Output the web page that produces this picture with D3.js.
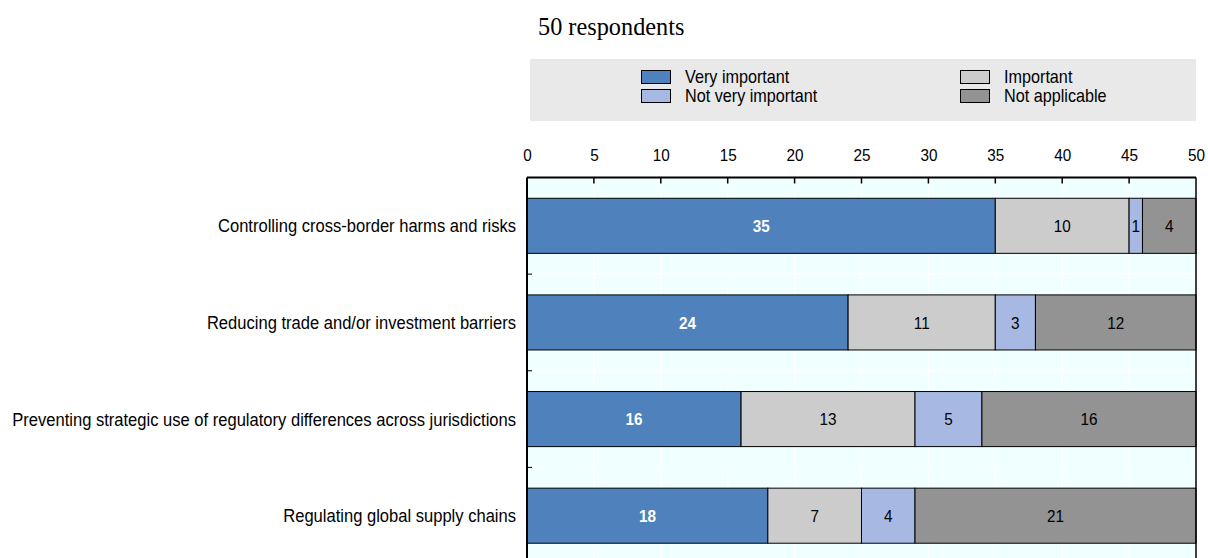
<!DOCTYPE html>
<html>
<head>
<meta charset="utf-8">
<script src="https://cdn.jsdelivr.net/npm/d3@7"></script>
<style>
  html, body { margin: 0; padding: 0; background: #fff; }
  svg { display: block; }
  .sans { font-family: "Liberation Sans", Arial, sans-serif; }
</style>
</head>
<body>
<svg id="chart" width="1208" height="558"></svg>
<script>
// Survey: importance of objectives for international regulatory co-operation
const categories = [
  "Controlling cross-border harms and risks",
  "Reducing trade and/or investment barriers",
  "Preventing strategic use of regulatory differences across jurisdictions",
  "Regulating global supply chains"
];
const seriesNames = ["Very important", "Important", "Not very important", "Not applicable"];
const veryImportant    = [35, 24, 16, 18];
const important        = [10, 11, 13, 7];
const notVeryImportant = [1, 3, 5, 4];
const notApplicable    = [4, 12, 16, 21];
const xTicks = [0, 5, 10, 15, 20, 25, 30, 35, 40, 45, 50];
const colors = ["#4F81BD", "#CCCCCC", "#A7B9E3", "#939393"];

const rows = categories.map((c, i) => ({
  category: c,
  "Very important": veryImportant[i],
  "Important": important[i],
  "Not very important": notVeryImportant[i],
  "Not applicable": notApplicable[i]
}));
const stacked = d3.stack().keys(seriesNames)(rows);

const svg = d3.select("#chart");
const plotLeft = 527, plotRight = 1196, plotTop = 177.5, plotBottom = 564;

const x = d3.scaleLinear().domain([0, 50]).range([plotLeft, plotRight]);
const y = d3.scaleBand().domain(categories).range([plotTop, plotBottom]).paddingInner(0.43).paddingOuter(0.215);
const color = d3.scaleOrdinal().domain(seriesNames).range(colors);

// Narrow sans text: horizontally compressed glyphs
function narrowText(sel, px, py, size, sx) {
  return sel.attr("class", "sans")
    .attr("x", 0).attr("y", 0)
    .attr("font-size", size)
    .attr("transform", (d, i) => `translate(${px(d, i)},${py(d, i)}) scale(${sx},1)`);
}

// Title
svg.append("text")
  .attr("x", 538).attr("y", 35)
  .attr("font-family", "'Liberation Serif', 'Times New Roman', serif")
  .attr("font-size", 24.3)
  .attr("fill", "#000")
  .text("50 respondents");

// Legend panel
const legend = svg.append("g");
legend.append("rect").attr("x", 530).attr("y", 59).attr("width", 666).attr("height", 62).attr("fill", "#E9E9E9");
const legendPos = [
  { x: 641, y: 70 }, { x: 960, y: 70 },
  { x: 641, y: 89 }, { x: 960, y: 89 }
];
seriesNames.forEach((name, i) => {
  const p = legendPos[i];
  legend.append("rect")
    .attr("x", p.x + 0.5).attr("y", p.y + 0.5).attr("width", 29).attr("height", 13)
    .attr("fill", color(name)).attr("stroke", "#000").attr("stroke-width", 1);
  narrowText(legend.append("text").datum(name), () => p.x + 44, () => p.y + 13, 18, 0.9)
    .attr("fill", "#000")
    .text(name);
});

// Plot background and gridlines
svg.append("rect").attr("x", plotLeft).attr("y", plotTop).attr("width", plotRight - plotLeft).attr("height", plotBottom - plotTop).attr("fill", "#F0FFFF");
const grid = svg.append("g");
grid.selectAll("line.v").data(xTicks.slice(1, -1)).join("line")
  .attr("x1", d => x(d)).attr("x2", d => x(d))
  .attr("y1", plotTop).attr("y2", plotBottom)
  .attr("stroke", "#fff").attr("stroke-width", 1.5);
const step = y.step();
const bounds = categories.map(c => y(c) + y.bandwidth() + (step - y.bandwidth()) / 2).slice(0, -1);
grid.selectAll("line.h").data(bounds).join("line")
  .attr("x1", plotLeft).attr("x2", plotRight)
  .attr("y1", d => d).attr("y2", d => d)
  .attr("stroke", "#fff").attr("stroke-width", 1.5);

// Bars
const layers = svg.append("g").selectAll("g").data(stacked).join("g")
  .attr("fill", d => color(d.key));
layers.selectAll("rect").data(d => d).join("rect")
  .attr("x", d => x(d[0]))
  .attr("y", d => y(d.data.category))
  .attr("width", d => x(d[1]) - x(d[0]))
  .attr("height", y.bandwidth())
  .attr("stroke", "#000").attr("stroke-width", 1);

// Value labels
stacked.forEach((layer, li) => {
  narrowText(
    svg.append("g").selectAll("text").data(layer).join("text"),
    d => (x(d[0]) + x(d[1])) / 2,
    d => y(d.data.category) + y.bandwidth() / 2,
    17, 0.9)
    .attr("dy", "0.36em")
    .attr("text-anchor", "middle")
    .attr("font-weight", li === 0 ? "bold" : "normal")
    .attr("fill", li === 0 ? "#fff" : "#000")
    .text(d => d[1] - d[0]);
});

// Top axis
const xAxis = d3.axisTop(x).tickValues(xTicks).tickSize(0).tickPadding(0);
const ax = svg.append("g").attr("transform", `translate(0,${plotTop})`).call(xAxis);
ax.select(".domain").remove();
ax.selectAll("text")
  .attr("class", "sans")
  .attr("y", -17)
  .attr("font-size", 17)
  .attr("transform", "scale(0.9,1)")
  .attr("fill", "#000");
// inward tick marks
svg.append("g").selectAll("line").data(xTicks.slice(1, -1)).join("line")
  .attr("x1", d => x(d)).attr("x2", d => x(d))
  .attr("y1", plotTop).attr("y2", plotTop + 6)
  .attr("stroke", "#000").attr("stroke-width", 1.5);

// Frame: top, left, right
svg.append("line").attr("x1", plotLeft).attr("x2", plotRight).attr("y1", plotTop).attr("y2", plotTop).attr("stroke", "#000").attr("stroke-width", 2);
svg.append("line").attr("x1", plotLeft).attr("x2", plotLeft).attr("y1", plotTop).attr("y2", plotBottom).attr("stroke", "#000").attr("stroke-width", 2);
svg.append("line").attr("x1", plotRight).attr("x2", plotRight).attr("y1", plotTop).attr("y2", plotBottom).attr("stroke", "#000").attr("stroke-width", 1.5);

// Left category axis: boundary ticks and labels
svg.append("g").selectAll("line").data(bounds).join("line")
  .attr("x1", plotLeft).attr("x2", plotLeft + 5)
  .attr("y1", d => d).attr("y2", d => d)
  .attr("stroke", "#000").attr("stroke-width", 1);
narrowText(
  svg.append("g").selectAll("text").data(categories).join("text"),
  () => 516,
  d => y(d) + y.bandwidth() / 2,
  18.5, 0.895)
  .attr("dy", "0.36em")
  .attr("text-anchor", "end")
  .attr("fill", "#000")
  .text(d => d);
</script>
</body>
</html>
